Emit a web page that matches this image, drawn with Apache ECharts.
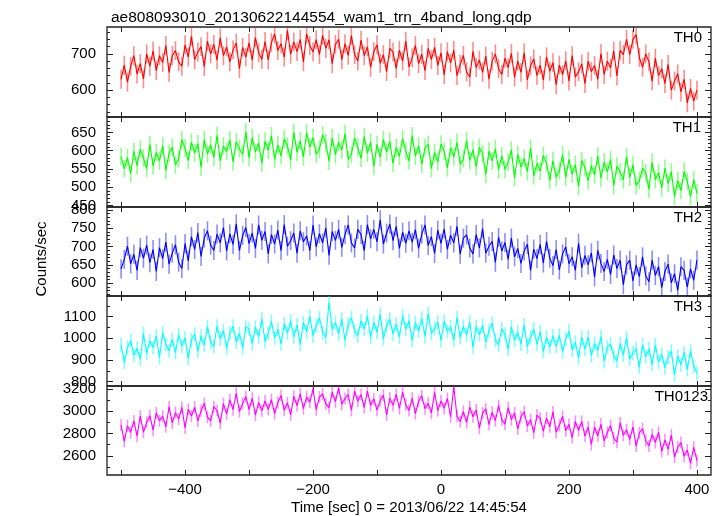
<!DOCTYPE html>
<html><head><meta charset="utf-8">
<script src="https://cdn.jsdelivr.net/npm/echarts@6/dist/echarts.min.js"></script>
<style>html,body{margin:0;padding:0;background:#fff}#c{width:722px;height:516px}</style>
</head><body><div id="c"></div>
<script>
const titleText = 'ae808093010_20130622144554_wam1_trn_4band_long.qdp';
const xAxisTitle = 'Time [sec] 0 = 2013/06/22 14:45:54';
const yAxisTitle = 'Counts/sec';
const bandNames = ['TH0', 'TH1', 'TH2', 'TH3', 'TH0123'];
const bandColors = ['#ff0000', '#00ff00', '#0000ff', '#00ffff', '#ff00ff'];
const errColors = ['rgba(255,0,0,0.45)', 'rgba(0,255,0,0.45)', 'rgba(0,0,255,0.45)', 'rgba(0,255,255,0.5)', 'rgba(255,0,255,0.45)'];
const timeStart = -500, timeStep = 5;

const th0 = [630,669,622,666,695,644,673,631,700,666,
708,654,695,676,723,649,695,709,678,666,
725,691,748,684,705,720,665,735,700,726,
683,744,695,719,678,711,730,659,718,691,
730,683,745,703,685,734,683,731,755,709,
728,691,765,699,733,706,740,678,755,723,
705,739,698,751,715,739,673,726,740,684,
728,696,750,698,680,738,695,719,663,706,
725,674,698,651,715,705,660,710,680,735,
664,689,723,673,699,654,715,684,718,668,
703,642,706,675,710,640,671,696,650,636,
707,662,683,649,694,630,680,700,659,643,
688,662,701,636,680,649,703,628,667,686,
640,669,628,692,652,676,615,669,643,681,
625,695,636,651,672,618,680,651,668,630,
701,643,680,661,708,639,710,698,740,698,
740,753,690,663,700,678,625,688,640,659,
618,671,600,625,645,595,630,565,605,570,600];

const th1 = [584,550,581,537,598,559,604,580,551,617,
558,595,572,614,546,593,609,561,578,630,
607,573,623,594,619,555,630,591,616,582,
642,572,613,598,629,569,624,605,590,651,
581,636,596,621,566,626,601,641,576,616,
586,632,613,574,650,596,627,583,649,610,
636,590,604,643,622,571,635,589,623,602,
646,576,590,635,609,579,639,593,623,557,
617,582,631,596,625,565,609,584,633,598,
572,641,585,614,563,608,617,551,595,569,
618,598,553,608,583,623,563,578,628,573,
603,556,609,592,535,599,572,605,548,586,
549,568,602,526,590,555,579,543,607,531,
565,544,587,566,519,573,527,545,589,527,
576,536,562,502,573,553,518,559,534,585,
525,569,542,576,504,558,542,520,584,527,
561,505,518,552,540,494,568,521,540,498,
552,510,542,475,518,491,543,516,474,521,484];

const th2 = [639,665,701,653,679,635,697,668,704,656,
692,632,697,667,712,652,682,705,657,640,
708,661,727,692,738,673,723,743,704,689,
734,710,752,688,735,706,762,689,730,752,
708,737,695,759,717,741,680,733,707,745,
689,760,701,716,737,682,743,713,729,689,
759,699,735,710,751,676,741,717,747,698,
733,759,710,696,747,733,689,760,721,747,
713,773,707,737,761,716,755,695,739,709,
743,712,746,695,734,759,703,727,681,745,
709,748,692,731,710,755,679,723,732,696,
680,733,696,749,682,701,714,657,725,688,
711,665,723,672,695,654,688,706,635,693,
667,706,655,714,668,648,692,636,680,699,
653,672,635,709,642,676,650,683,617,690,
654,632,665,624,677,640,663,596,650,663,
606,650,618,672,620,604,663,621,645,588,
632,652,601,626,580,645,635,589,639,608,663];

const th3 = [970,888,957,989,922,954,903,1022,930,989,
957,1010,912,1025,972,942,995,934,1017,964,
1002,907,993,1019,939,1011,968,1054,982,962,
1056,997,1036,955,1024,1056,983,1022,956,1055,
1042,975,1051,1006,1090,985,1024,1078,1002,1041,
974,1067,1024,1079,1006,1062,973,1073,1030,1101,
1012,1058,1095,1027,1005,1165,1042,1073,1020,1088,
990,1065,1095,1035,1012,1080,1042,1103,1005,1073,
1027,1110,997,1058,1088,1020,1065,1005,1103,1042,
1080,989,1072,1033,1092,1009,1114,1022,1045,1074,
990,1079,1032,1053,992,1095,1003,1055,1015,1074,
959,1055,1016,1060,983,1034,1070,993,969,1043,
1019,949,1053,991,1028,973,1061,962,1006,1042,
972,1031,939,1005,959,1011,963,1014,938,996,
1033,947,982,910,1005,949,1006,920,977,943,
1008,893,960,973,919,895,976,922,1003,904,
932,953,867,970,915,951,880,969,891,926,
864,914,941,831,919,878,935,857,943,872,839];

const th0123 = [2877,2730,2870,2810,2913,2777,2956,2812,2900,2960,
2830,2986,2914,2957,2861,3041,2896,2988,2930,3034,
2851,3017,2957,3036,2913,3004,3070,2947,2913,3041,
3007,2894,3069,2975,3103,3014,3162,2997,3071,3131,
3016,3117,2966,3079,3004,3092,3016,3104,2979,3079,
3142,3009,3076,2968,3135,3052,3157,3023,3129,3082,
3200,3014,3128,3155,3068,3033,3172,3086,3210,3064,
3115,3150,3009,3181,3090,3150,3034,3182,3053,3113,
3010,3097,3145,2968,3117,3053,3151,3025,3173,3059,
3007,3118,2979,3090,3139,3024,3073,2984,3170,3006,
3092,3028,3115,2951,3220,2955,2908,2998,2898,3038,
2951,3012,2848,2984,3021,2881,2992,2915,3051,2925,
2885,3032,2926,2985,2842,2951,2996,2867,2925,2808,
2966,2937,2819,2940,2860,2994,2813,2872,2955,2825,
2883,2764,2909,2827,2909,2778,2859,2702,2859,2778,
2885,2734,2810,2872,2759,2722,2897,2784,2835,2747,
2860,2688,2804,2845,2736,2689,2792,2720,2812,2640,
2744,2658,2786,2588,2679,2719,2596,2652,2533,2677,2557];

// error-bar half widths per band (counts/sec)
const errHalf = [26, 24, 26, 32, 54];

const xMin = -522, xMax = 422;
const xTickValues = [-500, -400, -300, -200, -100, 0, 100, 200, 300, 400];
const xLabelValues = [-400, -200, 0, 200, 400];
const yRanges = [[526, 774], [446, 692], [565, 808], [780, 1195], [2428, 3227]];
const yLabelValues = [[600, 700], [450, 500, 550, 600, 650], [600, 650, 700, 750, 800], [800, 900, 1000, 1100], [2600, 2800, 3000, 3200]];
const yMinorSteps = [20, 10, 10, 50, 100];

const bandData = [th0, th1, th2, th3, th0123];

// layout
const gridLeft = 107, gridWidth = 604;
const gridTops = [27, 117, 207, 296, 386];
const gridHeights = [90, 90, 89, 90, 90];
const labelRights = [702, 701, 702, 702, 708];
const FONT = 'Liberation Sans, Arial, sans-serif';
const FS = 15;
const frameColor = '#222';

const minus = v => (v < 0 ? '\u2212' + (-v) : String(v));
const plain = v => String(v);

function minorValues(r, step, majors) {
  const out = [];
  for (let v = Math.ceil(r[0] / step) * step; v <= r[1]; v += step) {
    if (majors.indexOf(v) < 0) out.push(v);
  }
  return out;
}

const grids = [], xAxes = [], yAxes = [], series = [], graphics = [];
for (let g = 0; g < 5; g++) {
  grids.push({left: gridLeft, width: gridWidth, top: gridTops[g], height: gridHeights[g],
    show: true, borderColor: frameColor, borderWidth: 1.3, backgroundColor: 'transparent'});
  const last = g === 4;
  ['bottom', 'top'].forEach(pos => {
    const isLabelled = last && pos === 'bottom';
    xAxes.push({
      type: 'value', gridIndex: g, position: pos, min: xMin, max: xMax,
      axisLine: {show: false, onZero: false},
      splitLine: {show: false},
      axisTick: {show: true, inside: true, length: 5, customValues: xTickValues, lineStyle: {color: frameColor, width: 1}},
      axisLabel: isLabelled ? {show: true, customValues: xLabelValues, formatter: minus, color: '#000',
        fontFamily: FONT, fontSize: FS, margin: 7} : {show: false},
      name: isLabelled ? xAxisTitle : '',
      nameLocation: 'middle', nameGap: 25,
      nameTextStyle: {color: '#000', fontFamily: FONT, fontSize: FS}
    });
  });
  const r = yRanges[g];
  const majors = yLabelValues[g];
  const minors = minorValues(r, yMinorSteps[g], majors);
  ['left', 'right'].forEach(pos => {
    yAxes.push({
      type: 'value', gridIndex: g, position: pos, min: r[0], max: r[1],
      axisLine: {show: false, onZero: false}, splitLine: {show: false},
      axisTick: {show: true, inside: true, length: 6, customValues: majors, lineStyle: {color: frameColor, width: 1}},
      axisLabel: pos === 'left' ? {show: true, customValues: majors, formatter: plain, color: '#000', fontFamily: FONT, fontSize: FS, margin: 11} : {show: false}
    });
    yAxes.push({
      type: 'value', gridIndex: g, position: pos, min: r[0], max: r[1],
      axisLine: {show: false, onZero: false}, splitLine: {show: false},
      axisTick: {show: true, inside: true, length: 3, customValues: minors, lineStyle: {color: frameColor, width: 1}},
      axisLabel: {show: false}
    });
  });
  const pts = bandData[g].map((v, i) => [timeStart + i * timeStep, v]);
  const e = errHalf[g];
  const ec = errColors[g];
  series.push({
    type: 'custom', name: bandNames[g] + ' err', xAxisIndex: g * 2, yAxisIndex: g * 4,
    data: pts, silent: true, clip: true, z: 1,
    renderItem: function (params, api) {
      const x = api.value(0), y = api.value(1);
      const p1 = api.coord([x, y - e]);
      const p2 = api.coord([x, y + e]);
      const cs = params.coordSys;
      return {
        type: 'line',
        shape: {x1: p1[0], y1: Math.min(p1[1], cs.y + cs.height), x2: p2[0], y2: Math.max(p2[1], cs.y)},
        style: {stroke: ec, lineWidth: 1.6}
      };
    }
  });
  series.push({
    type: 'line', name: bandNames[g], xAxisIndex: g * 2, yAxisIndex: g * 4,
    data: pts,
    showSymbol: false, symbol: 'none', silent: true,
    lineStyle: {color: bandColors[g], width: 1.1}, itemStyle: {color: bandColors[g]},
    clip: true, z: 2
  });
  graphics.push({
    type: 'text', x: labelRights[g], y: gridTops[g] + 10.5, z: 100,
    style: {text: bandNames[g], fill: '#000', font: FS + 'px ' + FONT,
      textAlign: 'right', textVerticalAlign: 'middle', align: 'right', verticalAlign: 'middle'}
  });
}
graphics.push({
  type: 'text', x: 42, y: 259, rotation: Math.PI / 2, z: 100,
  style: {text: yAxisTitle, fill: '#000', font: FS + 'px ' + FONT,
    textAlign: 'center', textVerticalAlign: 'middle', align: 'center', verticalAlign: 'middle'}
});

const chart = echarts.init(document.getElementById('c'), null, {renderer: 'canvas'});
chart.setOption({
  animation: false,
  backgroundColor: '#fff',
  title: {text: titleText, left: 106, top: 5, textStyle: {color: '#000', fontFamily: FONT, fontSize: 15.5, fontWeight: 'normal'}},
  grid: grids, xAxis: xAxes, yAxis: yAxes, series: series, graphic: graphics
});
</script></body></html>
